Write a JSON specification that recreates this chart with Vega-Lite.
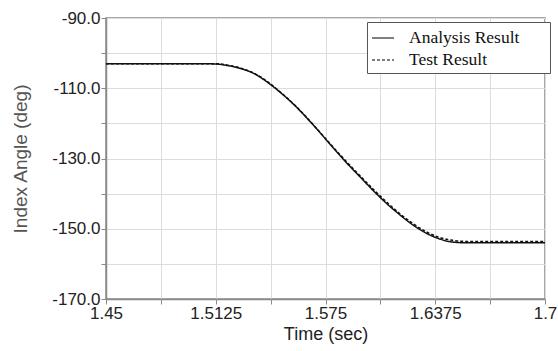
{
  "$schema": "https://vega.github.io/schema/vega-lite/v6.json",
  "width": 439,
  "height": 281,
  "autosize": {"type": "none"},
  "padding": {"left": 106, "top": 18, "right": 13, "bottom": 52},
  "background": "white",
  "config": {
    "view": {"stroke": "#8a8a8a", "strokeWidth": 1.5},
    "axis": {
      "grid": true,
      "gridColor": "#dcdcdc",
      "gridWidth": 1,
      "domainColor": "#8a8a8a",
      "domainWidth": 1.5,
      "tickColor": "#8a8a8a",
      "tickSize": 5,
      "labelFont": "Liberation Sans",
      "labelFontSize": 17,
      "labelColor": "#222",
      "titleFont": "Liberation Sans",
      "titleFontWeight": "normal",
      "labelOverlap": false,
      "labelFlush": false
    }
  },
  "data": {
    "values": [
      {"series": "Analysis Result", "t": 1.45, "angle": -103.0},
      {"series": "Analysis Result", "t": 1.48, "angle": -103.0},
      {"series": "Analysis Result", "t": 1.505, "angle": -103.0},
      {"series": "Analysis Result", "t": 1.5125, "angle": -103.1},
      {"series": "Analysis Result", "t": 1.52, "angle": -103.6},
      {"series": "Analysis Result", "t": 1.5275, "angle": -104.5},
      {"series": "Analysis Result", "t": 1.535, "angle": -106.0},
      {"series": "Analysis Result", "t": 1.5425, "angle": -108.5},
      {"series": "Analysis Result", "t": 1.55, "angle": -111.5},
      {"series": "Analysis Result", "t": 1.5575, "angle": -114.9},
      {"series": "Analysis Result", "t": 1.565, "angle": -118.8},
      {"series": "Analysis Result", "t": 1.5725, "angle": -123.0},
      {"series": "Analysis Result", "t": 1.58, "angle": -127.3},
      {"series": "Analysis Result", "t": 1.5875, "angle": -131.5},
      {"series": "Analysis Result", "t": 1.595, "angle": -135.4},
      {"series": "Analysis Result", "t": 1.6025, "angle": -139.3},
      {"series": "Analysis Result", "t": 1.61, "angle": -142.9},
      {"series": "Analysis Result", "t": 1.6175, "angle": -146.1},
      {"series": "Analysis Result", "t": 1.625, "angle": -149.0},
      {"series": "Analysis Result", "t": 1.6325, "angle": -151.3},
      {"series": "Analysis Result", "t": 1.64, "angle": -152.9},
      {"series": "Analysis Result", "t": 1.6475, "angle": -153.8},
      {"series": "Analysis Result", "t": 1.655, "angle": -154.0},
      {"series": "Analysis Result", "t": 1.7, "angle": -154.0},
      {"series": "Test Result", "t": 1.45, "angle": -103.0},
      {"series": "Test Result", "t": 1.48, "angle": -103.0},
      {"series": "Test Result", "t": 1.5125, "angle": -103.0},
      {"series": "Test Result", "t": 1.52, "angle": -103.5},
      {"series": "Test Result", "t": 1.5275, "angle": -104.4},
      {"series": "Test Result", "t": 1.535, "angle": -105.9},
      {"series": "Test Result", "t": 1.5425, "angle": -108.3},
      {"series": "Test Result", "t": 1.55, "angle": -111.4},
      {"series": "Test Result", "t": 1.5575, "angle": -114.8},
      {"series": "Test Result", "t": 1.565, "angle": -118.7},
      {"series": "Test Result", "t": 1.5725, "angle": -122.9},
      {"series": "Test Result", "t": 1.58, "angle": -127.1},
      {"series": "Test Result", "t": 1.5875, "angle": -131.2},
      {"series": "Test Result", "t": 1.595, "angle": -135.1},
      {"series": "Test Result", "t": 1.6025, "angle": -138.9},
      {"series": "Test Result", "t": 1.61, "angle": -142.5},
      {"series": "Test Result", "t": 1.6175, "angle": -145.8},
      {"series": "Test Result", "t": 1.625, "angle": -148.6},
      {"series": "Test Result", "t": 1.6325, "angle": -150.9},
      {"series": "Test Result", "t": 1.64, "angle": -152.5},
      {"series": "Test Result", "t": 1.6475, "angle": -153.3},
      {"series": "Test Result", "t": 1.655, "angle": -153.6},
      {"series": "Test Result", "t": 1.7, "angle": -153.6}
    ]
  },
  "mark": {"type": "line", "strokeWidth": 1.5, "interpolate": "monotone", "color": "#111"},
  "encoding": {
    "x": {
      "field": "t",
      "type": "quantitative",
      "scale": {"domain": [1.45, 1.7], "nice": false, "zero": false},
      "axis": {
        "title": "Time (sec)",
        "titleColor": "#222",
        "titleFontSize": 18,
        "titleBaseline": "alphabetic",
        "titleY": 40,
        "values": [1.45, 1.48125, 1.5125, 1.54375, 1.575, 1.60625, 1.6375, 1.66875, 1.7],
        "labelExpr": "round((datum.value - 1.45) / 0.03125) % 2 == 0 ? format(datum.value, '~g') : ''",
        "labelPadding": 1
      }
    },
    "y": {
      "field": "angle",
      "type": "quantitative",
      "scale": {"domain": [-170, -90], "nice": false, "zero": false},
      "axis": {
        "title": "Index Angle (deg)",
        "titleColor": "#555",
        "titleFontSize": 19,
        "titleBaseline": "middle",
        "titleX": -86,
        "titleY": 140.5,
        "values": [-170, -160, -150, -140, -130, -120, -110, -100, -90],
        "labelExpr": "datum.value % 20 == -10 ? replace(format(datum.value, '.1f'), '\u2212', '-') : ''",
        "labelPadding": 1
      }
    },
    "strokeDash": {
      "field": "series",
      "type": "nominal",
      "scale": {"domain": ["Analysis Result", "Test Result"], "range": [[1, 0], [3, 2]]},
      "legend": {
        "title": ".",
        "titleOrient": "right",
        "titleColor": "transparent",
        "titleFontSize": 10,
        "titlePadding": 24,
        "orient": "none",
        "legendX": 261,
        "legendY": 4,
        "symbolType": "stroke",
        "symbolSize": 484,
        "symbolStrokeWidth": 1.2,
        "symbolStrokeColor": "black",
        "labelFont": "Liberation Serif",
        "labelFontSize": 17.5,
        "labelColor": "#111",
        "labelOffset": 14,
        "strokeColor": "#555",
        "padding": 4,
        "rowPadding": 1,
        "fillColor": "white"
      }
    }
  }
}
